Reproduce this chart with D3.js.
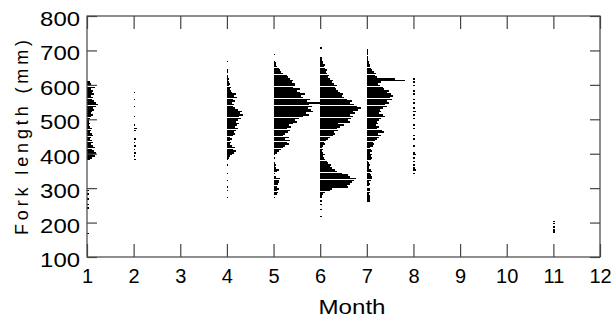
<!DOCTYPE html>
<html><head><meta charset="utf-8">
<script src="https://cdn.jsdelivr.net/npm/d3@7"></script>
<style>body{margin:0;background:#fff}svg{display:block}text{font-family:"Liberation Sans",Arial,sans-serif;fill:#000}</style>
</head><body>
<svg id="c" width="613" height="322"></svg>
<script>
const months = [1,2,3,4,5,6,7,8,9,10,11,12];
const yTicks = [100,200,300,400,500,600,700,800];
const binWidth = 5; // mm
const countsPerMonth = 47;

// sparse months: [fork length (mm), count]
const month1 = [[165,1],[240,1],[250,1],[265,1],[280,1],[290,1],
 [380,3],[385,5],[390,8],[395,6],[400,9],[405,7],[410,5],[415,8],[420,6],[425,4],[430,6],[435,5],[440,3],[445,4],[450,6],[455,5],[460,3],[465,4],[470,5],[475,3],[480,2],[485,3],[490,2],[495,2],[500,3],[505,4],[510,6],[515,4],[520,5],[525,7],[530,6],[535,9],[540,11],[545,9],[550,7],[555,5],[560,6],[565,4],[570,7],[575,5],[580,6],[585,4],[590,8],[595,5],[600,4],[605,3]];
const month2 = [[380,2],[390,1],[400,2],[410,1],[420,2],[430,1],[440,2],[465,2],[470,3],[480,1],[505,1],[535,1],[555,1],[575,1]];
const month8 = [[340,2],[350,3],[355,2],[365,2],[375,1],[385,2],[395,3],[400,2],[420,2],[440,1],[450,2],[470,2],[480,1],[500,1],[510,2],[520,3],[530,2],[545,2],[555,1],[570,2],[580,2],[595,1],[605,2],[615,1]];
const month11 = [[170,2],[175,1],[185,2],[195,1],[200,1]];

// dense months: counts per 5 mm bin starting at the given length
const month4Start = 270;
const month4 = [1,0,0,0,1,0,1,0,0,0,1,0,0,0,1,0,0,0,0,1,0,0,1,2,3,5,7,9,6,8,5,3,4,3,5,3,6,8,7,9,11,8,10,12,9,11,14,12,16,13,15,11,8,6,7,5,8,6,10,7,9,5,4,3,4,2,3,2,1,2,1,1,0,1,1,0,0,0,0,1];
const month5Start = 270;
const month5 = [1,0,3,4,3,5,3,0,4,6,5,7,2,0,1,3,5,2,1,2,1,0,0,1,0,1,3,5,8,10,12,16,14,17,12,16,10,12,15,17,14,18,16,20,24,22,26,30,36,33,40,38,35,39,36,48,34,37,30,28,32,27,24,27,20,22,22,19,20,17,15,14,10,8,7,5,3,2,2,1,0,0,0,1];
const month6Start = 210;
const month6 = [0,1,0,0,0,1,0,0,1,0,1,0,2,1,3,5,10,12,28,27,30,32,34,36,30,28,22,17,15,12,10,11,8,7,5,4,3,5,3,2,3,2,3,5,4,6,8,10,13,15,14,18,17,20,24,18,30,28,31,33,30,35,33,38,41,37,34,30,32,27,24,22,23,20,18,16,15,17,14,12,13,10,8,9,7,6,7,5,4,5,3,3,2,2,0,0,0,0,0,1];
const month7Start = 260;
const month7 = [3,3,3,3,2,3,3,3,0,2,3,2,4,5,5,4,3,5,4,2,2,3,2,1,4,5,4,5,3,5,4,3,6,7,6,8,10,12,14,11,17,15,10,12,9,11,10,12,14,18,16,12,14,13,16,20,18,22,20,25,23,26,24,20,22,17,16,13,11,14,38,28,10,8,9,7,5,4,3,3,2,2,1,1,1,1,1,1,1];

function dense(start, arr){ return arr.map((c,i)=>[start+i*binWidth,c]); }
const series = [
  {m:1, bins:month1},{m:2, bins:month2},{m:4, bins:dense(month4Start,month4)},
  {m:5, bins:dense(month5Start,month5)},{m:6, bins:dense(month6Start,month6)},
  {m:7, bins:dense(month7Start,month7)},{m:8, bins:month8},{m:11, bins:month11}
];

const svg = d3.select("#c");
const L=87, R=600, T=16, B=257;
const x = d3.scaleLinear().domain([1,12]).range([L,R]);
const y = d3.scaleLinear().domain([100,800]).range([B,T]);

// bars
const g = svg.append("g").attr("shape-rendering","crispEdges");
series.forEach(s=>{
  g.selectAll(null).data(s.bins.filter(d=>d[1]>0)).enter().append("rect")
    .attr("x", x(s.m))
    .attr("y", d=>y(d[0]+binWidth))
    .attr("width", d=>Math.max(1.5, x(s.m + d[1]/countsPerMonth)-x(s.m)))
    .attr("height", d=>Math.abs(y(d[0])-y(d[0]+binWidth))*0.9)
    .attr("fill","#000");
});

// frame
const axisColor="#444";
svg.append("rect").attr("x",L).attr("y",T).attr("width",R-L).attr("height",B-T)
  .attr("fill","none").attr("stroke",axisColor).attr("stroke-width",1.2);

// axes with inward ticks
const ax = svg.append("g").attr("transform",`translate(0,${B})`)
  .call(d3.axisBottom(x).tickValues(months).tickFormat(d3.format("d")).tickSizeInner(-13).tickSizeOuter(0));
const axTop = svg.append("g").attr("transform",`translate(0,${T})`)
  .call(d3.axisTop(x).tickValues(months).tickFormat("").tickSizeInner(-13).tickSizeOuter(0));
const ay = svg.append("g").attr("transform",`translate(${L},0)`)
  .call(d3.axisLeft(y).tickValues(yTicks).tickFormat(d3.format("d")).tickSizeInner(-10).tickSizeOuter(0));
const ayR = svg.append("g").attr("transform",`translate(${R},0)`)
  .call(d3.axisRight(y).tickValues(yTicks).tickFormat("").tickSizeInner(-10).tickSizeOuter(0));
[ax,axTop,ay,ayR].forEach(a=>{
  a.select(".domain").remove();
  a.selectAll("line").attr("stroke",axisColor).attr("stroke-width",1.2);
});
ax.selectAll("text").style("font-size","20px").attr("y",26).attr("dy",0);
ay.selectAll("text").style("font-size","21px").attr("x",-7).attr("dy","0.45em")
  .attr("textLength", d=>String(d).length*13.3).attr("lengthAdjust","spacingAndGlyphs");

svg.append("text").attr("x",352).attr("y",314).attr("text-anchor","middle")
  .style("font-size","20px").attr("textLength",67).attr("lengthAdjust","spacingAndGlyphs").text("Month");
svg.append("text").attr("transform","translate(28,137.5) rotate(-90)").attr("text-anchor","middle")
  .style("font-size","18px").attr("textLength",195).attr("lengthAdjust","spacing").text("Fork length (mm)");
</script>
</body></html>
